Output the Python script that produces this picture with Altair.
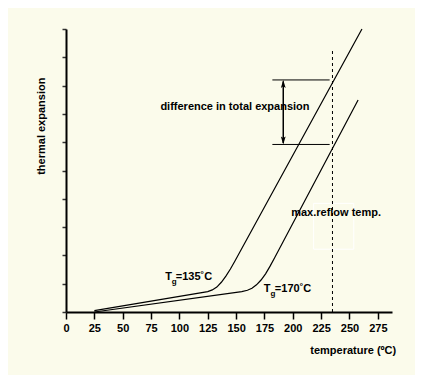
import altair as alt
import pandas as pd

# curve read-outs (temperature in °C, relative thermal expansion)
temp_135 = [25, 125, 129, 133, 137, 141, 145, 149, 261]
exp_135 = [0.05, 0.72, 0.78, 0.88, 1.05, 1.27, 1.52, 1.80, 10.0]
temp_170 = [25, 155, 160, 164, 168, 172, 176, 180, 184, 257.6]
exp_170 = [0.0, 0.72, 0.77, 0.84, 0.96, 1.13, 1.35, 1.62, 1.92, 7.49]

x_ticks = [0, 25, 50, 75, 100, 125, 150, 175, 200, 225, 250, 275]
y_ticks = [0, 1, 2, 3, 4, 5, 6, 7, 8, 9, 10]

reflow_temp = 235
upper_level = 8.2
lower_level = 5.92

FONT = "Liberation Sans"
BG = "#FBFBEB"

xs = alt.Scale(domain=[0, 287.5], nice=False, zero=False)
ys = alt.Scale(domain=[0, 10], nice=False, zero=False)

AX = alt.Axis(values=x_ticks, title="temperature (ºC)", grid=False,
              labelOverlap=False,
              domainColor="black", domainWidth=2, tickColor="black",
              tickWidth=1.5, tickSize=7, labelPadding=3,
              labelFont=FONT, labelFontSize=11, labelFontWeight="bold",
              labelColor="black", labelFlush=False,
              titleFont=FONT, titleFontSize=11, titleFontWeight="bold",
              titleColor="black", titleX=329.7, titleY=38,
              titleAlign="right", titleBaseline="middle")
AY = alt.Axis(values=y_ticks, labels=False, title="thermal expansion",
              grid=False, domainColor="black", domainWidth=2,
              tickColor="#333333", tickWidth=1.5, tickSize=4,
              titleFont=FONT, titleFontSize=11, titleFontWeight="bold",
              titleColor="black", titleX=-25, titleY=96.7,
              titleAngle=270, titleAlign="center",
              titleBaseline="middle")

def X(f):
    return alt.X(f, scale=xs, axis=AX)

def Y(f):
    return alt.Y(f, scale=ys, axis=AY)

curves = pd.DataFrame(
    {"t": temp_135 + temp_170,
     "e": exp_135 + exp_170,
     "s": ["135"] * len(temp_135) + ["170"] * len(temp_170)}
)

lines = alt.Chart(curves).mark_line(
    color="black", strokeWidth=1.2, interpolate="linear"
).encode(x=X("t:Q"), y=Y("e:Q"), detail="s:N")

ref = pd.DataFrame({"x": [reflow_temp], "y": [0], "y2": [9.32]})
dashed = alt.Chart(ref).mark_rule(color="black", strokeWidth=1, strokeDash=[3, 3]).encode(
    x=X("x:Q"), y=Y("y:Q"), y2="y2:Q"
)

hl = pd.DataFrame({"x": [182, 182], "x2": [232.5, 232.5], "y": [upper_level, lower_level]})
hlines = alt.Chart(hl).mark_rule(color="black", strokeWidth=1).encode(
    x=X("x:Q"), x2="x2:Q", y=Y("y:Q")
)

arr = pd.DataFrame({"x": [191.6], "y": [lower_level + 0.05], "y2": [upper_level - 0.05]})
arrow_line = alt.Chart(arr).mark_rule(color="black", strokeWidth=1.5).encode(
    x=X("x:Q"), y=Y("y:Q"), y2="y2:Q"
)
heads_up = alt.Chart(pd.DataFrame({"x": [191.6], "y": [upper_level]})).mark_point(
    shape="M0,0L0.6,2L0,1.6L-0.6,2Z", filled=True, color="black", size=64, opacity=1
).encode(x=X("x:Q"), y=Y("y:Q"))
heads_dn = alt.Chart(pd.DataFrame({"x": [191.6], "y": [lower_level]})).mark_point(
    shape="M0,0L0.6,-2L0,-1.6L-0.6,-2Z", filled=True, color="black", size=64, opacity=1
).encode(x=X("x:Q"), y=Y("y:Q"))

box = alt.Chart(pd.DataFrame({"x": [218.4], "x2": [253.8], "y": [2.22], "y2": [3.84]})).mark_rect(
    fill=BG, fillOpacity=0, stroke="white", strokeWidth=1
).encode(x=X("x:Q"), x2="x2:Q", y=Y("y:Q"), y2="y2:Q")

def label(df, size=11, align="left", baseline="alphabetic"):
    return alt.Chart(df).mark_text(
        font=FONT, fontSize=size, fontWeight="bold", color="black",
        align=align, baseline=baseline
    ).encode(x=X("x:Q"), y=Y("y:Q"), text="t:N")

main_texts = pd.DataFrame({
    "x": [149.0, 238.2],
    "y": [7.25, 3.51],
    "t": ["difference in total expansion", "max.reflow temp."],
})
t_center = label(main_texts, align="center", baseline="middle")

big = pd.DataFrame({"x": [87.5, 96.8, 174.4, 184.2], "y": [1.13, 1.13, 0.71, 0.71],
                    "t": ["T", "=135˚C", "T", "=170˚C"]})
small = pd.DataFrame({"x": [93.3, 180.4], "y": [1.0, 0.58], "t": ["g", "g"]})
t_big = label(big)
t_small = label(small, size=8)

chart = alt.layer(
    lines, box, dashed, hlines, arrow_line, heads_up, heads_dn, t_center, t_big, t_small
).properties(
    width=326, height=283,
    background=BG,
    padding={"left": 58, "top": 21, "right": 23, "bottom": 63},
    autosize=alt.AutoSizeParams(type="none"),
).configure_view(stroke=None)

chart.save("out.html", embed_options={"renderer": "svg", "actions": False})
